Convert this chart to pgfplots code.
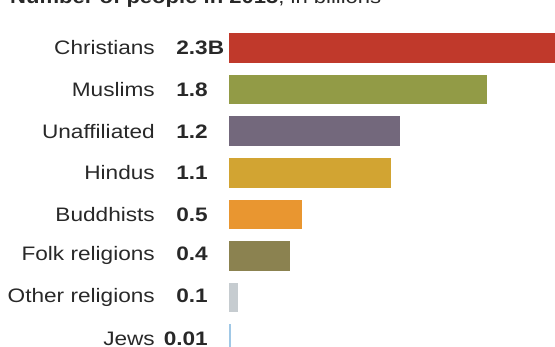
\documentclass[border=0pt]{standalone}
\usepackage{fontspec}
\setmainfont{Liberation Sans}[FakeStretch=1.16]
\usepackage{pgfplots}
\pgfplotsset{compat=1.18}
\definecolor{cChr}{RGB}{192,57,43}
\definecolor{cMus}{RGB}{146,155,70}
\definecolor{cUna}{RGB}{115,104,124}
\definecolor{cHin}{RGB}{210,164,50}
\definecolor{cBud}{RGB}{233,150,48}
\definecolor{cFol}{RGB}{139,130,80}
\definecolor{cOth}{RGB}{198,204,208}
\definecolor{cJew}{RGB}{160,200,230}
\definecolor{txt}{RGB}{40,40,40}
\newcommand\lab[2]{#1\hspace{53pt}\llap{\bfseries #2}}
\begin{document}
\fontsize{19.5pt}{23pt}\selectfont
\begin{tikzpicture}
\begin{axis}[
  scale only axis,
  width=326pt, height=347pt,
  xmin=0, xmax=2.218,
  ymin=-1.155, ymax=7.19,
  y dir=reverse,
  xbar, bar width=29.5pt, bar shift=0pt,
  axis line style={draw=none},
  tick style={draw=none},
  xtick=\empty,
  ytick={0,1,2,3,4,5,6,7},
  yticklabels={\lab{Christians}{2.3\rlap{B}},\lab{Muslims}{1.8},\lab{Unaffiliated}{1.2},\lab{Hindus}{1.1},\lab{Buddhists}{0.5},\lab{Folk religions}{0.4},\lab{Other religions}{0.1},\lab{Jews}{0.01}},
  yticklabel style={anchor=east, inner sep=0pt, xshift=-21pt, text=txt, font=\fontsize{19.5pt}{23pt}\selectfont},
  major tick length=0pt,
]
\addplot[fill=cChr, draw=none] coordinates {(2.276,0)};
\addplot[fill=cMus, draw=none] coordinates {(1.752,1)};
\addplot[fill=cUna, draw=none] coordinates {(1.165,2)};
\addplot[fill=cHin, draw=none] coordinates {(1.099,3)};
\addplot[fill=cBud, draw=none] coordinates {(0.500,4)};
\addplot[fill=cFol, draw=none] coordinates {(0.418,5)};
\addplot[fill=cOth, draw=none] coordinates {(0.059,6)};
\addplot[fill=cJew, draw=none] coordinates {(0.014,7)};
\end{axis}
\node[anchor=base west, inner sep=0pt, text=txt, font=\fontsize{19pt}{23pt}\selectfont] at (-219pt,343pt) {\textbf{Number of people in 2015}, in billions};
\pgfresetboundingbox
\useasboundingbox (-229pt,0pt) rectangle (326pt,347pt);
\end{tikzpicture}
\end{document}
